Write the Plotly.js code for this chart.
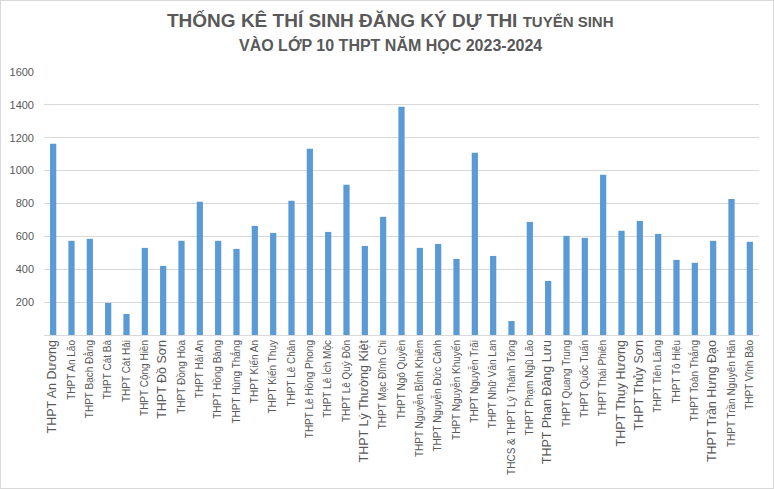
<!DOCTYPE html>
<html>
<head>
<meta charset="utf-8">
<script src="https://cdn.plot.ly/plotly-3.0.1.min.js"></script>
<style>
  html, body { margin: 0; padding: 0; background: #fff; }
  #wrap { position: relative; width: 774px; height: 489px; }
  #chart { position: absolute; left: 0; top: 0; width: 774px; height: 489px; }
  #frame { position: absolute; left: 0; top: 0; width: 772px; height: 487px; border: 1px solid #d9d9d9; pointer-events: none; }
</style>
</head>
<body>
<div id="wrap"><div id="chart"></div><div id="frame"></div></div>
<script>
// ---- data ----
const schools = [
  "THPT An Dương", "THPT An Lão", "THPT Bạch Đằng", "THPT Cát Bà", "THPT Cát Hải",
  "THPT Cộng Hiền", "THPT Đồ Sơn", "THPT Đồng Hòa", "THPT Hải An", "THPT Hồng Bàng",
  "THPT Hùng Thắng", "THPT Kiến An", "THPT Kiến Thụy", "THPT Lê Chân", "THPT Lê Hồng Phong",
  "THPT Lê Ích Mộc", "THPT Lê Quý Đôn", "THPT Lý Thường Kiệt", "THPT Mạc Đĩnh Chi", "THPT Ngô Quyền",
  "THPT Nguyễn Bỉnh Khiêm", "THPT Nguyễn Đức Cảnh", "THPT Nguyễn Khuyến", "THPT Nguyễn Trãi", "THPT Nhữ Văn Lan",
  "THCS & THPT Lý Thánh Tông", "THPT Phạm Ngũ Lão", "THPT Phan Đăng Lưu", "THPT Quang Trung", "THPT Quốc Tuấn",
  "THPT Thái Phiên", "THPT Thụy Hương", "THPT Thủy Sơn", "THPT Tiên Lãng", "THPT Tô Hiệu",
  "THPT Toàn Thắng", "THPT Trần Hưng Đạo", "THPT Trần Nguyên Hãn", "THPT Vĩnh Bảo"
];
const candidates = [
  1163, 573, 585, 195, 128,
  530, 420, 573, 810, 573,
  524, 664, 621, 816, 1133,
  627, 914, 542, 719, 1389,
  530, 554, 463, 1109, 481,
  85, 688, 329, 603, 591,
  975, 634, 694, 615, 457,
  439, 573, 828, 567
];
const yTicks = [200, 400, 600, 800, 1000, 1200, 1400, 1600];

// ---- styling (labels drawn larger in the original) ----
const largeLabels = ["THPT An Dương", "THPT Đồ Sơn", "THPT Lý Thường Kiệt", "THPT Phan Đăng Lưu",
  "THPT Thụy Hương", "THPT Thủy Sơn", "THPT Trần Hưng Đạo"];

const tickText = schools.map(s => largeLabels.includes(s)
  ? '<span style="font-size:12.5px">' + s + '</span>' : s);

const trace = {
  type: 'bar',
  x: schools,
  y: candidates,
  marker: { color: '#5b9bd5' },
  hoverinfo: 'x+y'
};

const layout = {
  width: 774, height: 489,
  margin: { l: 44, r: 15, t: 72, b: 154 },
  paper_bgcolor: '#ffffff', plot_bgcolor: '#ffffff',
  bargap: 0.66,
  showlegend: false,
  font: { family: 'Liberation Sans, Arial, sans-serif', color: '#595959' },
  xaxis: {
    type: 'category',
    tickmode: 'array', tickvals: schools, ticktext: tickText,
    tickangle: -90,
    tickfont: { size: 10, color: '#595959' },
    showgrid: false, showline: true, linecolor: '#d9d9d9', linewidth: 1,
    ticks: '', zeroline: false
  },
  yaxis: {
    range: [0, 1600],
    tickmode: 'array', tickvals: yTicks,
    tickfont: { size: 11, color: '#595959' },
    showgrid: true, gridcolor: '#d9d9d9', gridwidth: 1,
    zeroline: false, showline: false, ticks: '',
    ticklabelstandoff: 9
  },
  annotations: [
    {
      xref: 'paper', yref: 'paper', x: 0.485, y: 1.196, xanchor: 'center', yanchor: 'middle',
      showarrow: false,
      text: '<b>THỐNG KÊ THÍ SINH ĐĂNG KÝ DỰ THI <span style="font-size:15px">TUYỂN SINH</span></b>',
      font: { family: 'Liberation Sans Narrow, Arial Narrow, sans-serif', size: 19, color: '#595959' }
    },
    {
      xref: 'paper', yref: 'paper', x: 0.485, y: 1.103, xanchor: 'center', yanchor: 'middle',
      showarrow: false,
      text: '<b>VÀO LỚP 10 THPT NĂM HỌC 2023-2024</b>',
      font: { family: 'Liberation Sans Narrow, Arial Narrow, sans-serif', size: 16, color: '#595959' }
    }
  ]
};

Plotly.newPlot('chart', [trace], layout, { displayModeBar: false, staticPlot: true });
</script>
</body>
</html>
